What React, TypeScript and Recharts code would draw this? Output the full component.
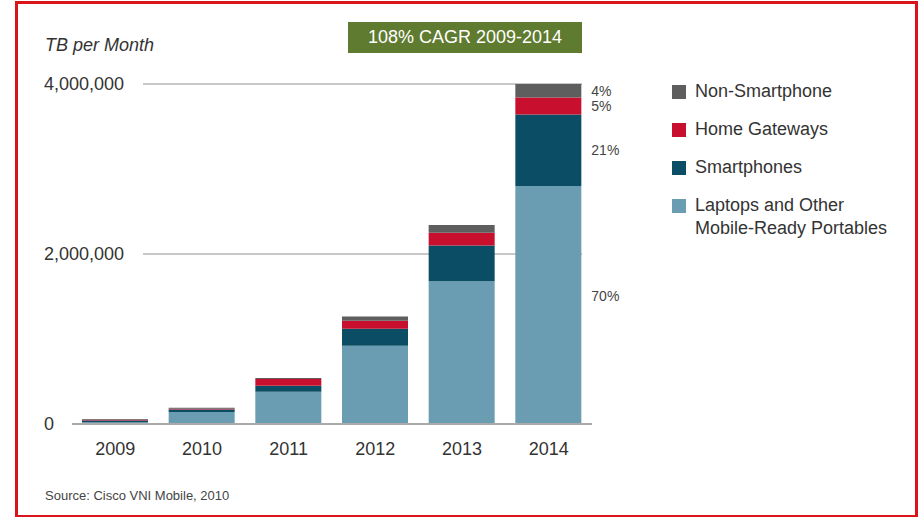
import React from "react";
import { BarChart, Bar, XAxis, YAxis, CartesianGrid, LabelList } from "recharts";

const years = ["2009", "2010", "2011", "2012", "2013", "2014"];
const laptops = [20000, 140000, 380000, 920000, 1680000, 2800000];
const smartphones = [20000, 30000, 70000, 200000, 420000, 840000];
const homeGateways = [10000, 10000, 80000, 95000, 150000, 200000];
const nonSmartphone = [10000, 10000, 10000, 50000, 90000, 160000];
const yTicks = [0, 2000000, 4000000];
const shares2014 = { laptops: "70%", smartphones: "21%", homeGateways: "5%", nonSmartphone: "4%" };

const series = [
  { key: "laptops", name: "Laptops and Other\nMobile-Ready Portables", color: "#6a9db1" },
  { key: "smartphones", name: "Smartphones", color: "#0b4d64" },
  { key: "homeGateways", name: "Home Gateways", color: "#c8102e" },
  { key: "nonSmartphone", name: "Non-Smartphone", color: "#5e5e5e" },
];

const data = years.map((year, i) => ({
  year,
  laptops: laptops[i],
  smartphones: smartphones[i],
  homeGateways: homeGateways[i],
  nonSmartphone: nonSmartphone[i],
}));

const FONT = "'Liberation Sans', Arial, Helvetica, sans-serif";
const TEXT = "#333";

const YTick = (props: any) => {
  const { y, payload } = props;
  return (
    <text x={44} y={y} dy={6} textAnchor="start" fontSize={18} fill={TEXT} fontFamily={FONT}>
      {payload.value.toLocaleString("en-US")}
    </text>
  );
};

const shareLabel = (key: string) => (props: any) => {
  const { x, y, width, height, index } = props;
  if (index !== years.length - 1) return null;
  const shift = key === "laptops" ? -9 : 0;
  return (
    <text x={x + width + 10} y={y + height / 2 + shift} dy={5} fontSize={14} fill="#444" fontFamily={FONT}>
      {(shares2014 as any)[key]}
    </text>
  );
};

const LegendBox = () => {
  const items = [...series].reverse();
  return (
    <div style={{ position: "absolute", left: 672, top: 80, fontFamily: FONT, fontSize: 18, color: TEXT }}>
      {items.map((s) => (
        <div key={s.key} style={{ display: "flex", alignItems: "flex-start", marginBottom: 15, lineHeight: "23px" }}>
          <span style={{ width: 14, height: 14, background: s.color, marginTop: 5, marginRight: 9, flex: "none" }} />
          <span style={{ whiteSpace: "pre" }}>{s.name}</span>
        </div>
      ))}
    </div>
  );
};

// grid lines start right of the tick labels and stop under the last bar
const horizontalLine = (props: any) => {
  const { y1, y2, x2, index } = props;
  if (Math.abs(y1 - 424) < 2) return <g key={`h-${index}`} />;
  return <line key={`h-${index}`} x1={143} x2={x2 - 10} y1={y1} y2={y2} stroke="#c8c8c8" strokeWidth={2} />;
};

export default function App() {
  return (
    <div style={{ position: "absolute", left: 0, top: 0, width: 924, height: 517, background: "#fff", fontFamily: FONT }}>
      <div
        style={{
          position: "absolute",
          left: 15,
          top: 1,
          width: 897,
          height: 511,
          border: "3px solid #d9141b",
        }}
      />
      <div
        style={{
          position: "absolute",
          left: 348,
          top: 22,
          width: 234,
          height: 31,
          background: "#5f7b30",
          color: "#fff",
          fontSize: 18,
          lineHeight: "31px",
          textAlign: "center",
        }}
      >
        108% CAGR 2009-2014
      </div>
      <div style={{ position: "absolute", left: 45, top: 35, fontSize: 18, fontStyle: "italic", color: TEXT }}>
        TB per Month
      </div>
      <div style={{ position: "absolute", left: 45, top: 488, fontSize: 13, color: "#444" }}>
        Source: Cisco VNI Mobile, 2010
      </div>
      <LegendBox />
      <BarChart
        width={924}
        height={517}
        data={data}
        margin={{ top: 84, right: 332, bottom: 63, left: 12 }}
        style={{ position: "absolute", left: 0, top: 0 }}
      >
        <CartesianGrid vertical={false} horizontal={horizontalLine} />
        <XAxis
          dataKey="year"
          height={30}
          tickLine={false}
          axisLine={{ stroke: "#aaa", strokeWidth: 2 }}
          tick={{ fontSize: 18, fill: TEXT, fontFamily: FONT }}
          tickMargin={12}
        />
        <YAxis
          width={60}
          domain={[0, 4000000]}
          ticks={yTicks}
          tickLine={false}
          axisLine={false}
          tick={<YTick />}
        />
        {series.map((s) => (
          <Bar key={s.key} dataKey={s.key} stackId="a" fill={s.color} barSize={66} isAnimationActive={false}>
            <LabelList dataKey={s.key} content={shareLabel(s.key)} />
          </Bar>
        ))}
      </BarChart>
    </div>
  );
}
